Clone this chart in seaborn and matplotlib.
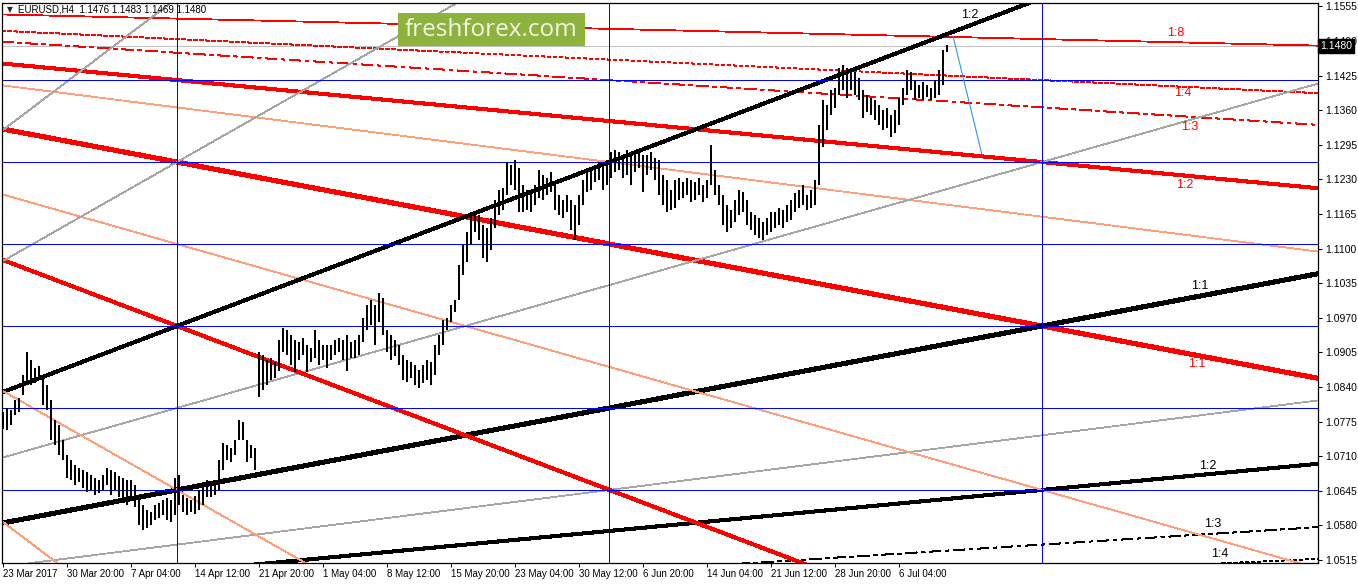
import matplotlib
matplotlib.use("Agg")
import matplotlib.pyplot as plt
import matplotlib.transforms as mtrans
from matplotlib.patches import Rectangle
import seaborn as sns

sns.set_theme(style="white")
plt.rcParams["font.family"] = ["Liberation Sans", "DejaVu Sans"]

# ---------------- data ----------------
symbol = "EURUSD,H4"
last_ohlc = [1.1476, 1.1483, 1.1469, 1.1480]

# x axis: H4 bar number, one label every 32 bars
date_ticks = [0, 32, 64, 96, 128, 160, 192, 224, 256, 288, 320, 352, 384, 416, 448]
date_labels = ["23 Mar 2017", "30 Mar 20:00", "7 Apr 04:00", "14 Apr 12:00",
               "21 Apr 20:00", "1 May 04:00", "8 May 12:00", "15 May 20:00",
               "23 May 04:00", "30 May 12:00", "6 Jun 20:00", "14 Jun 04:00",
               "21 Jun 12:00", "28 Jun 20:00", "6 Jul 04:00"]

price_ticks = [1.0515, 1.0580, 1.0645, 1.0710, 1.0775, 1.0840, 1.0905, 1.0970,
               1.1035, 1.1100, 1.1165, 1.1230, 1.1295, 1.1360, 1.1425, 1.1490,
               1.1555]

# price bars (each one = 2 H4 candles), high / low in 1/10000
bar_span = 2
highs = [10793, 10800, 10796, 10815, 10819, 10862, 10906, 10890, 10876, 10879,
         10862, 10843, 10815, 10778, 10768, 10740, 10712, 10702, 10693, 10687,
         10684, 10680, 10674, 10669, 10665, 10674, 10687, 10684, 10680, 10672,
         10669, 10665, 10665, 10656, 10637, 10618, 10609, 10605, 10618, 10622,
         10628, 10631, 10628, 10669, 10674, 10637, 10631, 10628, 10635, 10646,
         10656, 10665, 10656, 10661, 10702, 10734, 10731, 10725, 10740, 10778,
         10774, 10740, 10731, 10725, 10906, 10900, 10890, 10894, 10887, 10928,
         10950, 10947, 10937, 10928, 10924, 10932, 10918, 10913, 10947, 10928,
         10918, 10918, 10918, 10928, 10932, 10928, 10937, 10924, 10928, 10937,
         10969, 10994, 11003, 10994, 11016, 11007, 10947, 10937, 10928, 10918,
         10900, 10890, 10887, 10881, 10872, 10881, 10890, 10887, 10918, 10937,
         10966, 10969, 10994, 11003, 11069, 11107, 11131, 11167, 11169, 11163,
         11144, 11139, 11157, 11191, 11210, 11214, 11263, 11257, 11266, 11251,
         11219, 11210, 11206, 11219, 11248, 11238, 11232, 11244, 11219, 11201,
         11191, 11201, 11191, 11182, 11201, 11229, 11244, 11248, 11257, 11263,
         11257, 11266, 11281, 11285, 11281, 11276, 11285, 11276, 11281, 11285,
         11276, 11276, 11281, 11270, 11266, 11238, 11229, 11210, 11229, 11232,
         11225, 11232, 11229, 11225, 11232, 11219, 11229, 11294, 11248, 11219,
         11201, 11182, 11172, 11191, 11210, 11206, 11191, 11169, 11163, 11157,
         11150, 11157, 11169, 11169, 11176, 11172, 11182, 11191, 11204, 11210,
         11219, 11201, 11210, 11229, 11332, 11379, 11370, 11398, 11402, 11439,
         11445, 11439, 11432, 11432, 11420, 11398, 11388, 11383, 11379, 11370,
         11360, 11364, 11351, 11360, 11383, 11402, 11435, 11432, 11417, 11407,
         11413, 11407, 11402, 11417, 11435, 11473, 11483]
lows = [10762, 10759, 10768, 10787, 10793, 10825, 10843, 10843, 10847, 10853,
        10806, 10797, 10740, 10731, 10712, 10702, 10669, 10665, 10655, 10661,
        10650, 10642, 10646, 10637, 10640, 10646, 10655, 10637, 10646, 10633,
        10628, 10618, 10631, 10614, 10581, 10571, 10575, 10581, 10590, 10594,
        10600, 10590, 10586, 10600, 10618, 10605, 10600, 10605, 10601, 10609,
        10618, 10633, 10633, 10637, 10646, 10684, 10702, 10699, 10712, 10740,
        10740, 10699, 10706, 10684, 10821, 10834, 10843, 10853, 10856, 10871,
        10905, 10900, 10881, 10868, 10890, 10900, 10868, 10887, 10894, 10881,
        10890, 10876, 10890, 10900, 10905, 10890, 10871, 10894, 10894, 10900,
        10924, 10947, 10956, 10918, 10962, 10937, 10905, 10890, 10898, 10881,
        10853, 10849, 10856, 10843, 10838, 10847, 10853, 10843, 10862, 10900,
        10918, 10947, 10962, 10981, 11003, 11050, 11075, 11107, 11131, 11116,
        11082, 11075, 11097, 11139, 11163, 11172, 11201, 11219, 11210, 11169,
        11169, 11172, 11169, 11182, 11195, 11191, 11201, 11206, 11172, 11163,
        11157, 11169, 11135, 11116, 11144, 11182, 11206, 11210, 11225, 11229,
        11210, 11219, 11232, 11244, 11248, 11232, 11238, 11219, 11244, 11251,
        11206, 11238, 11248, 11229, 11201, 11182, 11169, 11172, 11176, 11191,
        11195, 11201, 11187, 11191, 11201, 11187, 11195, 11219, 11201, 11182,
        11144, 11131, 11139, 11150, 11163, 11169, 11144, 11135, 11125, 11120,
        11116, 11125, 11131, 11139, 11144, 11139, 11150, 11154, 11169, 11176,
        11182, 11172, 11176, 11182, 11219, 11291, 11323, 11351, 11364, 11388,
        11398, 11383, 11398, 11388, 11379, 11345, 11357, 11351, 11342, 11332,
        11323, 11326, 11309, 11317, 11332, 11370, 11388, 11398, 11379, 11383,
        11379, 11385, 11379, 11383, 11388, 11407, 11469]

# Gann grid (blue) and the two fans built on it
grid_bars = [87, 303, 519.5]
grid_prices = [1.06465, 1.08006, 1.09546, 1.11086, 1.12627, 1.14167]
fan_origin_bar = -345.5
red_origin_price = 1.15706
black_origin_price = 1.03386
box_bars = 216.25
box_price = 0.0154

fan_ratios = [1/8, 1/4, 1/3, 1/2, 2/3, 1, 3/2, 2, 3, 4]

# projection drawn by hand on the chart (light blue)
proj_bars = [475, 489.5]
proj_prices = [1.14994, 1.12759]

# ---------------- styles ----------------
SALMON = "#ff9f7a"
GRAY = "#a6a6a6"
THIN = 0.6
DOT = (0, (4, 3))
DASHDOT = (0, (14, 5, 4, 5))
red_style = {1/8: ("red", THIN, "-"), 1/4: ("red", THIN, DOT),
             1/3: ("red", THIN, DASHDOT), 1/2: ("red", 2.2, "-"),
             2/3: (SALMON, THIN, "-"), 1: ("red", 2.9, "-"),
             3/2: (SALMON, THIN, "-"), 2: ("red", 2.2, "-"),
             3: (SALMON, THIN, "-"), 4: (SALMON, THIN, "-")}
black_style = {1/8: None, 1/4: ("black", THIN, DOT),
               1/3: ("black", THIN, DASHDOT), 1/2: ("black", 2.2, "-"),
               2/3: (GRAY, THIN, "-"), 1: ("black", 2.9, "-"),
               3/2: (GRAY, THIN, "-"), 2: ("black", 2.2, "-"),
               3: (GRAY, THIN, "-"), 4: (GRAY, THIN, "-")}
# (ratio, text, x bar, vertical offset px)
red_labels = [(1/8, "1:8", 586.5, 9), (1/4, "1:4", 590, -6),
              (1/3, "1:3", 593.5, -10), (1/2, "1:2", 591, -9),
              (1, "1:1", 597, -9)]
black_labels = [(2, "1:2", 483.5, 10), (1, "1:1", 598.5, 10),
                (1/2, "1:2", 602.5, 8), (1/3, "1:3", 605, 10),
                (1/4, "1:4", 608.5, 9)]

W, H = 1358, 584
fig = plt.figure(figsize=(W / 100, H / 100), dpi=100)
fig.patch.set_facecolor("white")
ax = fig.add_axes([2 / W, 21 / H, 1316 / W, 560 / H])
ax.set_facecolor("white")

x_lo, x_hi = -0.5, 657.5
y_lo, y_hi = 1.0515 - 3 / 5323, 1.0515 + 557 / 5323
ax.set_xlim(x_lo, x_hi)
ax.set_ylim(y_lo, y_hi)

unit = box_price / box_bars


def fan_line(p0, sign, r):
    ys = [p0 + sign * r * unit * (x - fan_origin_bar) for x in (x_lo, x_hi)]
    return [x_lo, x_hi], ys


for r in fan_ratios:
    for p0, sign, styles in ((red_origin_price, -1, red_style),
                             (black_origin_price, 1, black_style)):
        st = styles[r]
        if st is None:
            continue
        xs, ys = fan_line(p0, sign, r)
        sns.lineplot(x=xs, y=ys, color=st[0], linewidth=st[1], linestyle=st[2],
                     ax=ax, zorder=2, antialiased=False)

for lbls, p0, sign, col in ((red_labels, red_origin_price, -1, "red"),
                            (black_labels, black_origin_price, 1, "black")):
    for r, txt, xb, dy in lbls:
        yl = p0 + sign * r * unit * (xb - fan_origin_bar)
        ax.annotate(txt, xy=(xb, yl), xytext=(0, dy * 0.72), textcoords="offset points",
                    ha="center", va="center", color=col, fontsize=9)

for b in grid_bars:
    ax.axvline(b, color="#0000ff", lw=THIN, zorder=2.2, antialiased=False)
for p in grid_prices:
    ax.axhline(p, color="#0000ff", lw=THIN, zorder=2.2, antialiased=False)

ax.axhline(last_ohlc[3], color="#c0c0c0", lw=THIN, zorder=1.8, antialiased=False)

sns.lineplot(x=proj_bars, y=proj_prices, color="#1e90ff", linewidth=0.75, ax=ax, zorder=2.5)

bx = [bar_span * i for i in range(len(highs))]
ax.vlines(bx, [v / 10000 for v in lows], [v / 10000 for v in highs],
          color="black", lw=1.3, zorder=3, antialiased=False)

ax.set_xlabel("")
ax.set_ylabel("")

# axes and ticks (MT4 style)
for s in ax.spines.values():
    s.set_color("black")
    s.set_linewidth(0.9)
ax.set_xticks(date_ticks)
ax.set_xticklabels(date_labels)
for t in ax.get_xticklabels():
    t.set_ha("left")
ax.yaxis.tick_right()
ax.set_yticks(price_ticks)
ax.set_yticklabels([f"{v:.4f}" for v in price_ticks])
ax.tick_params(axis="x", direction="out", length=3, width=0.75, pad=1.5,
               labelsize=7, colors="black", bottom=True)
ax.tick_params(axis="y", direction="out", length=3, width=0.75, pad=2.5,
               labelsize=7.5, colors="black", right=True, left=False)
ax.grid(False)

# current price box on the scale
trans = mtrans.blended_transform_factory(ax.transAxes, ax.transData)
ax.text(1.0016, last_ohlc[3], f"{last_ohlc[3]:.4f}", transform=trans, ha="left",
        va="center", color="white", fontsize=7.5, zorder=10, clip_on=False,
        bbox=dict(boxstyle="square,pad=0.2", fc="black", ec="black"))

# header
fig.text(7 / W, 1 - 10 / H, "\u25bc", fontsize=5.5, va="center", ha="left",
         family=["DejaVu Sans"])
fig.text(18 / W, 1 - 10 / H,
         f"{symbol}  " + " ".join(f"{v:.4f}" for v in last_ohlc),
         fontsize=7, va="center", ha="left", color="black")

# logo
fig.patches.append(Rectangle((398 / W, 1 - 46 / H), 187 / W, 33 / H,
                             transform=fig.transFigure, fc="#8db33e", ec="none",
                             zorder=20))
fig.text(491 / W, 1 - 30 / H, "freshforex.com", fontsize=17.5, color="#f5f5e6",
         ha="center", va="center", family=["Open Sans", "DejaVu Sans"], zorder=21)

fig.savefig("out.png", dpi=100, facecolor="white")
